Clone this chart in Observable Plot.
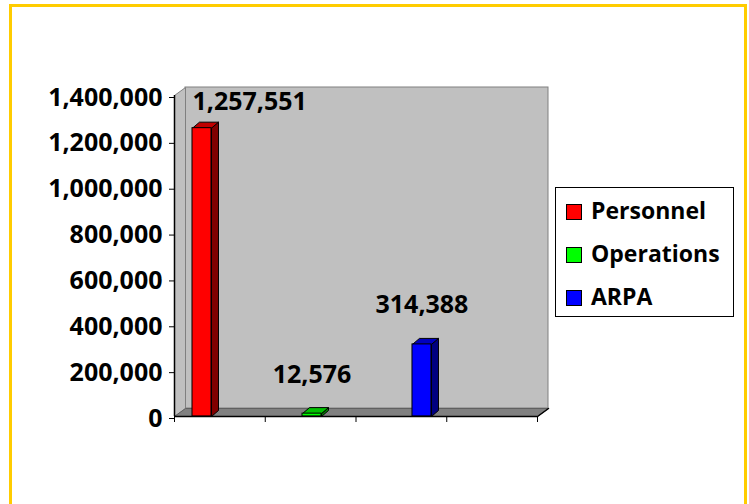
<!DOCTYPE html>
<html><head><meta charset="utf-8">
<script src="https://cdn.jsdelivr.net/npm/d3@7"></script>
<script src="https://cdn.jsdelivr.net/npm/@observablehq/plot@0.6"></script>
<style>
body{margin:0;background:#fff;}
#wrap{position:relative;width:749px;height:504px;overflow:hidden;font-family:"Open Sans",sans-serif;font-weight:bold;color:#000;background:#fff;}
#frame{position:absolute;left:9px;top:4px;width:732px;height:540px;border:3px solid #FFCC00;}
#chart{position:absolute;left:0;top:0;}
#legend{position:absolute;left:555px;top:187px;width:177px;height:128px;border:1px solid #000;background:#fff;}
.row{position:absolute;left:0;height:24px;line-height:24px;font-size:23px;white-space:nowrap;}
.sw{position:absolute;left:10px;top:4px;width:14px;height:14px;border:1px solid #000;}
.lt{position:absolute;left:35px;top:-2px;}
</style></head>
<body>
<div id="wrap"><div id="frame"></div><div id="chart"></div><div id="legend"></div></div>
<script>
// ---- data ----
const categories = ["Personnel", "Operations", "ARPA"];
const values = [1257551, 12576, 314388];
const yTicks = [0, 200000, 400000, 600000, 800000, 1000000, 1200000, 1400000];
const frontColors = ["#FF0000", "#00FF00", "#0000FF"];
const sideColors = ["#800000", "#008000", "#000080"];
const topColors = ["#C00000", "#00C000", "#0000C0"];

// ---- layout ----
const W = 749, H = 504, mL = 174, mR = 212, mT = 95, mB = 88;
const xMax = 4, yMax = 1400000;
const ux = xMax / (W - mL - mR);   // data units per pixel (x)
const uy = yMax / (H - mT - mB);   // data units per pixel (y)
const wallDx = 11, wallDy = 8, barDx = 7, barDy = 6, barW = 19;
const center = i => 0.303 + 1.212 * i;
const FS = 25;

function poly(id, fill, stroke, pts) {
  return pts.concat([pts[0]]).map(([x, y]) => ({id, fill, stroke, x, y}));
}
const wox = wallDx * ux, woy = wallDy * uy;
const walls = [
  ...poly("left", "#C0C0C0", "#808080", [[0, 0], [0, yMax], [wox, yMax + woy], [wox, woy]]),
  ...poly("floor", "#808080", "#606060", [[0, 0], [xMax, 0], [xMax + wox, woy], [wox, woy]])
];
const bars = categories.map((c, i) => ({
  c, v: values[i], x1: center(i) - barW / 2 * ux, x2: center(i) + barW / 2 * ux,
  xc: center(i), fill: frontColors[i]
}));
const faces = [];
bars.forEach((b, i) => {
  const ox = barDx * ux, oy = barDy * uy;
  faces.push(...poly("s" + i, sideColors[i], "#000", [[b.x2, 0], [b.x2 + ox, oy], [b.x2 + ox, b.v + oy], [b.x2, b.v]]));
  faces.push(...poly("t" + i, topColors[i], "#000", [[b.x1, b.v], [b.x2, b.v], [b.x2 + ox, b.v + oy], [b.x1 + ox, b.v + oy]]));
});

const chart = Plot.plot({
  width: W, height: H,
  marginLeft: mL, marginRight: mR, marginTop: mT, marginBottom: mB,
  x: {domain: [0, xMax]},
  y: {domain: [0, yMax]},
  style: {fontFamily: "'Open Sans', sans-serif", fontSize: FS + "px", fontWeight: "bold", color: "#000", background: "transparent", overflow: "visible"},
  marks: [
    Plot.rect([0], {x1: 0, x2: xMax, y1: 0, y2: yMax, dx: wallDx, dy: -wallDy, fill: "#C0C0C0", stroke: "#808080"}),
    Plot.line(walls, {x: "x", y: "y", z: "id", fill: "fill", stroke: "stroke", strokeWidth: 1}),
    Plot.line(faces, {x: "x", y: "y", z: "id", fill: "fill", stroke: "stroke", strokeWidth: 1}),
    Plot.rect(bars, {x1: "x1", x2: "x2", y1: 0, y2: "v", fill: "fill", stroke: "#000", strokeWidth: 1}),
    Plot.ruleX([0], {stroke: "#000", strokeWidth: 1.5}),
    Plot.ruleY([0], {stroke: "#000", strokeWidth: 1.5}),
    Plot.line([[xMax, 0], [xMax + wox, woy]], {stroke: "#000", strokeWidth: 1.5}),
    Plot.axisY({ticks: yTicks, tickFormat: d3.format(","), tickSize: 5, tickPadding: 7, label: null, fontSize: FS, fontWeight: "bold", dy: 2, stroke: "#000"}),
    Plot.axisX({ticks: [0, 1, 2, 3, 4], tickFormat: () => "", tickSize: 6, label: null, stroke: "#000"}),
    Plot.text(bars.slice(0, 1), {x: "x1", y: "v", text: d => d3.format(",")(d.v), textAnchor: "start", dy: -26, fontSize: FS, fontWeight: "bold", fill: "#000"}),
    Plot.text(bars.slice(1), {x: "xc", y: "v", text: d => d3.format(",")(d.v), dy: -39, dx: 0, fontSize: FS, fontWeight: "bold", fill: "#000"})
  ]
});
document.getElementById("chart").appendChild(chart);

const legend = document.getElementById("legend");
categories.forEach((c, i) => {
  const row = document.createElement("div");
  row.className = "row";
  row.style.top = (12 + i * 43) + "px";
  row.innerHTML = `<div class="sw" style="background:${frontColors[i]}"></div><span class="lt">${c}</span>`;
  legend.appendChild(row);
});
</script>
</body></html>
